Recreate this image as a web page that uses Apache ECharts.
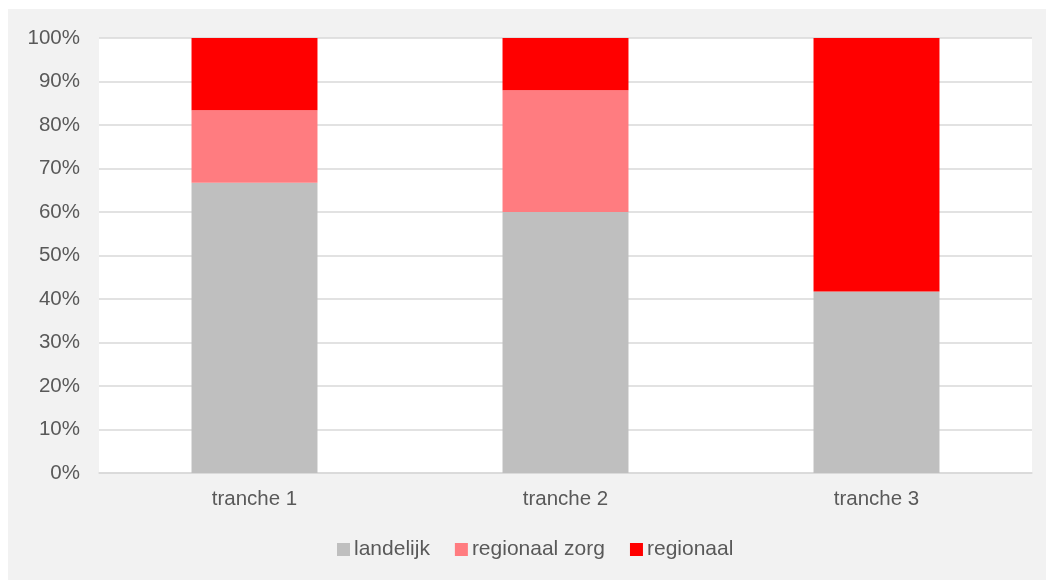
<!DOCTYPE html>
<html><head><meta charset="utf-8">
<script src="https://cdn.jsdelivr.net/npm/echarts@6/dist/echarts.min.js"></script>
<style>html,body{margin:0;padding:0;background:#fff;}#c{position:absolute;left:8px;top:9px;width:1038px;height:571px;}</style>
</head><body><div id="c"></div>
<script>
const categories = ['tranche 1', 'tranche 2', 'tranche 3'];
const landelijk = [66.7, 60, 41.7];
const regionaalZorg = [16.7, 28, 0];
const regionaal = [16.6, 12, 58.3];
const seriesNames = ['landelijk', 'regionaal zorg', 'regionaal'];
const colors = ['#bfbfbf', '#ff7c80', '#ff0000'];

const chart = echarts.init(document.getElementById('c'));
const txt = {color: '#595959', fontFamily: 'Liberation Sans, Arial, sans-serif', fontSize: 20.5};
chart.setOption({
  backgroundColor: '#f2f2f2',
  animation: false,
  grid: {left: 91, right: 14, top: 29, bottom: 107, show: true, backgroundColor: '#ffffff', borderWidth: 0},
  legend: {
    data: seriesNames, bottom: 20, left: 329, padding: 0, itemWidth: 13, itemHeight: 13, itemGap: 25,
    icon: 'rect', textStyle: Object.assign({}, txt, {fontSize: 21, padding: [0, 0, 0, -1]})
  },
  xAxis: {
    type: 'category', data: categories,
    axisLine: {lineStyle: {color: '#d9d9d9', width: 1.5}}, axisTick: {show: false},
    axisLabel: Object.assign({}, txt, {margin: 16})
  },
  yAxis: {
    type: 'value', min: 0, max: 100, interval: 10,
    axisLine: {show: false}, axisTick: {show: false},
    splitLine: {lineStyle: {color: '#d9d9d9', width: 1.5}},
    axisLabel: Object.assign({}, txt, {margin: 19, formatter: '{value}%'})
  },
  series: [landelijk, regionaalZorg, regionaal].map((d, i) => ({
    name: seriesNames[i], type: 'bar', stack: 'total', data: d, barWidth: '40.5%',
    itemStyle: {color: colors[i]}
  }))
});
</script></body></html>
